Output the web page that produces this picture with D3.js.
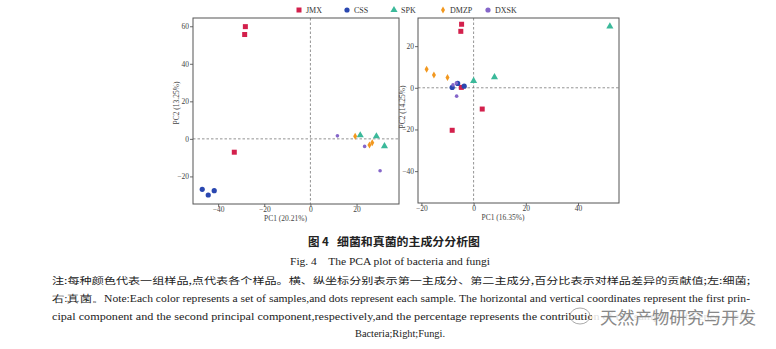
<!DOCTYPE html>
<html><head><meta charset="utf-8">
<script src="https://cdn.jsdelivr.net/npm/d3@7"></script>
<style>body{margin:0;background:#fff}svg{display:block}</style>
</head><body>
<script>
// ---- data ----
const groups = ["JMX","CSS","SPK","DMZP","DXSK"];
const colors = ["#d3204c","#2a47b0","#3bb99a","#f2981f","#8566c9"];
const shapes = ["square","circle","triangle","diamond","smallcircle"];
// Bacteria (left)
const bactJMX = [[-28.2,59.8],[-28.5,55.6],[-33,-7.1]];
const bactCSS = [[-46.9,-26.9],[-44.3,-29.9],[-41.7,-27.6]];
const bactSPK = [[21.6,1.9],[28.6,1.4],[32.1,-3.9]];
const bactDMZP = [[19.4,1.4],[25.6,-3.3],[26.8,-2.1]];
const bactDXSK = [[11.7,1.6],[23.5,-4.0],[30.2,-17.0]];
// Fungi (right)
const fungJMX = [[-4.6,30.5],[-4.9,27.1],[-4.7,0.2],[3.3,-10.2],[-8.2,-20.4]];
const fungCSS = [[-8.2,0.2],[-6.1,2.1],[-3.6,0.8]];
const fungSPK = [[52.2,29.5],[0,3.3],[8,5.1]];
const fungDMZP = [[-18,8.9],[-15.2,6.1],[-10,4.9]];
const fungDXSK = [[-7.9,1.4],[-6.5,-4.0],[-6.6,2.3]];
const leftXTicks = [-40,-20,0,20], leftYTicks = [-20,0,20,40,60];
const rightXTicks = [-20,0,20,40], rightYTicks = [-40,-20,0,20];
const leftTitles = ["PC1 (20.21%)","PC2 (13.25%)"];
const rightTitles = ["PC1 (16.35%)","PC2 (14.25%)"];
const captionCN = ["图 4","细菌和真菌的主成分分析图"];
const captionEN = "Fig. 4    The PCA plot of bacteria and fungi";
const noteLines = [
 "注:每种颜色代表一组样品,点代表各个样品。横、纵坐标分别表示第一主成分、第二主成分,百分比表示对样品差异的贡献值;左:细菌;",
 "右:真菌。Note:Each color represents a set of samples,and dots represent each sample. The horizontal and vertical coordinates represent the first prin-",
 "cipal component and the second principal component,respectively,and the percentage represents the contribution of the sample difference. Left:",
 "Bacteria;Right;Fungi."
];
const watermark = "天然产物研究与开发";

const W=776,H=349;
const svg=d3.select("body").append("svg").attr("width",W).attr("height",H);
const serif="'Liberation Serif','Times New Roman',serif";
const cjk="'Noto Sans CJK SC','Noto Sans',sans-serif";

function drawShape(g,shape,color,x,y){
  if(shape==="square") g.append("rect").attr("x",x-2.5).attr("y",y-2.5).attr("width",5).attr("height",5).attr("fill",color);
  else if(shape==="circle") g.append("circle").attr("cx",x).attr("cy",y).attr("r",2.6).attr("fill",color);
  else if(shape==="smallcircle") g.append("circle").attr("cx",x).attr("cy",y).attr("r",1.8).attr("fill",color);
  else if(shape==="triangle") g.append("path").attr("d",d3.symbol(d3.symbolTriangle,22)()).attr("transform",`translate(${x},${y})`).attr("fill",color);
  else if(shape==="diamond") g.append("path").attr("d",d3.symbol(d3.symbolDiamond,14)()).attr("transform",`translate(${x},${y})`).attr("fill",color);
}

function panel(box,xd,yd,xt,yt,titles,titlePos,data){
  const x=d3.scaleLinear().domain(xd).range([box.x0,box.x1]);
  const y=d3.scaleLinear().domain(yd).range([box.y1,box.y0]);
  const g=svg.append("g");
  g.append("line").attr("x1",box.x0).attr("x2",box.x1).attr("y1",y(0)).attr("y2",y(0)).attr("stroke","#777").attr("stroke-width",0.8).attr("stroke-dasharray","2.5,2");
  g.append("line").attr("x1",x(0)).attr("x2",x(0)).attr("y1",box.y0).attr("y2",box.y1).attr("stroke","#777").attr("stroke-width",0.8).attr("stroke-dasharray","2.5,2");
  const xa=g.append("g").attr("transform",`translate(0,${box.y1})`).call(d3.axisBottom(x).tickValues(xt).tickSize(3).tickPadding(0).tickFormat(d3.format("d")));
  const ya=g.append("g").attr("transform",`translate(${box.x0},0)`).call(d3.axisLeft(y).tickValues(yt).tickSize(3).tickPadding(1).tickFormat(d3.format("d")));
  [xa,ya].forEach(a=>{a.select(".domain").remove();a.selectAll("line").attr("stroke","#444").attr("stroke-width",0.8);
    a.selectAll("text").attr("font-family",serif).attr("font-size",7.5).attr("fill","#444");});
  data.forEach((pts,i)=>pts.forEach(p=>drawShape(g,shapes[i],colors[i],x(p[0]),y(p[1]))));
  g.append("rect").attr("x",box.x0).attr("y",box.y0).attr("width",box.x1-box.x0).attr("height",box.y1-box.y0).attr("fill","none").attr("stroke","#555").attr("stroke-width",1);
  g.append("text").attr("x",titlePos[0]).attr("y",box.y1+17).attr("text-anchor","middle").attr("font-family",serif).attr("font-size",7.5).attr("fill","#444").text(titles[0]);
  g.append("text").attr("transform",`translate(${titlePos[1]},${titlePos[2]}) rotate(-90)`).attr("text-anchor","middle").attr("font-family",serif).attr("font-size",7.5).attr("fill","#444").text(titles[1]);
}

panel({x0:193,x1:399,y0:18,y1:204},[-50.9,38.4],[-34.7,64.4],leftXTicks,leftYTicks,leftTitles,[285.5,179,103],
  [bactJMX,bactCSS,bactSPK,bactDMZP,bactDXSK]);
panel({x0:418,x1:619,y0:18,y1:203},[-21.3,55.7],[-55.3,33.5],rightXTicks,rightYTicks,rightTitles,[503,405,107],
  [fungJMX,fungCSS,fungSPK,fungDMZP,fungDXSK]);

// legend
const legX=[299,347,394,443,488];
const lg=svg.append("g");
groups.forEach((gname,i)=>{
  drawShape(lg,shapes[i]==="smallcircle"?"circle":shapes[i],colors[i],legX[i],10);
  lg.append("text").attr("x",legX[i]+7).attr("y",13).attr("font-family",serif).attr("font-size",8).attr("fill","#333").text(gname);
});

// captions
svg.append("text").attr("x",308).attr("y",246).attr("font-family",cjk).attr("font-weight","bold").attr("font-size",11.5).attr("fill","#222").text(captionCN[0]);
svg.append("text").attr("x",337).attr("y",246).attr("font-family",cjk).attr("font-weight","bold").attr("font-size",11.5).attr("fill","#222")
  .attr("textLength",143).attr("lengthAdjust","spacingAndGlyphs").text(captionCN[1]);
svg.append("text").attr("x",290).attr("y",265).attr("font-family",serif).attr("font-size",10.5).attr("fill","#222")
  .attr("textLength",200).attr("lengthAdjust","spacingAndGlyphs").attr("xml:space","preserve").text(captionEN);

const noteY=[284,302,320,337];
const noteX=[[52,750],[52,750],[52,750],[355,445]];
noteLines.forEach((t,i)=>{
  svg.append("text").attr("x",noteX[i][0]).attr("y",noteY[i]).attr("font-family",i===0?cjk:serif).attr("font-size",i===0?9:9.5).attr("fill","#222")
    .attr("textLength",noteX[i][1]-noteX[i][0]).attr("lengthAdjust","spacingAndGlyphs").text(t);
});
// watermark
svg.append("rect").attr("x",592).attr("y",305).attr("width",170).attr("height",22).attr("fill","#fff").attr("opacity",0.85);
svg.append("ellipse").attr("cx",580).attr("cy",316).attr("rx",10).attr("ry",8).attr("fill","none").attr("stroke","#aaa").attr("stroke-width",1);
svg.append("text").attr("x",600).attr("y",324).attr("font-family",cjk).attr("font-size",17).attr("fill","#888")
  .attr("textLength",156).attr("lengthAdjust","spacingAndGlyphs").text(watermark);
</script>
</body></html>
